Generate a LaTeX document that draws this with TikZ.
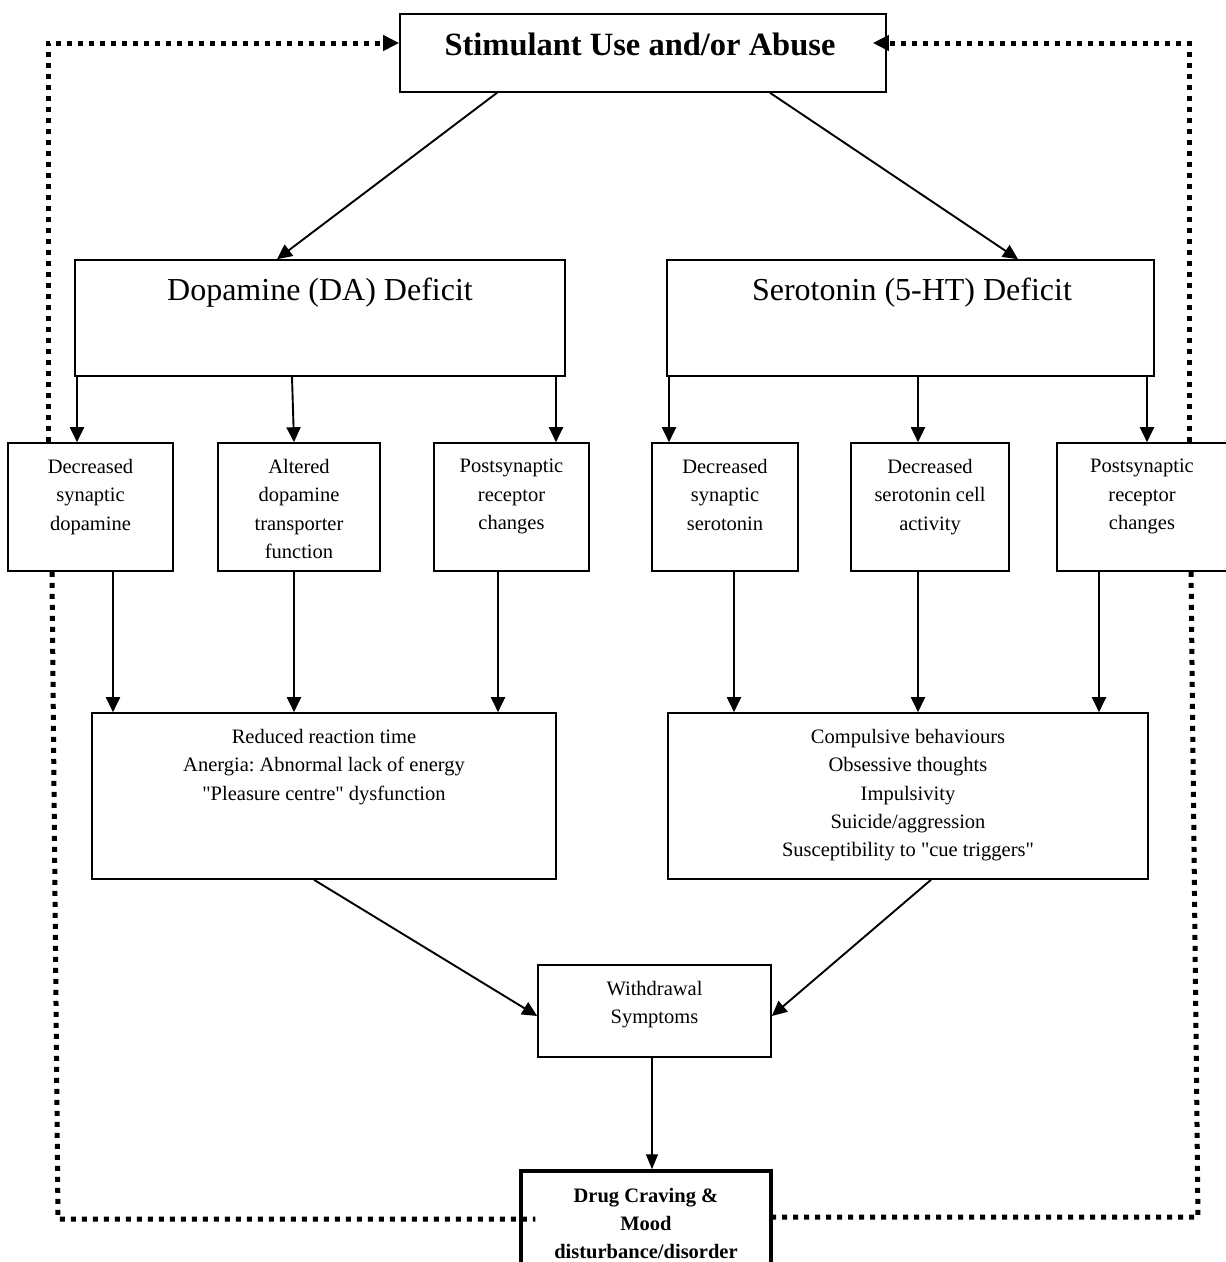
\documentclass[tikz,border=0pt]{standalone}
\usepackage{fontspec}
\setmainfont{Liberation Serif}[Ligatures=TeXOff]
\usetikzlibrary{arrows.meta,calc}
\frenchspacing
\begin{document}
\begin{tikzpicture}[x=1pt,y=-1pt,
  box/.style={draw,line width=1.6pt,rectangle,inner sep=0pt},
  txt/.style={font=\fontsize{20.5}{28.3}\selectfont,align=center,inner sep=0pt,anchor=north},
  arr/.style={line width=1.9pt,-{Triangle[length=15pt,width=14pt]}},
  thinarr/.style={line width=1.3pt,-{Triangle[length=15pt,width=12pt]}},
  dots/.style={line width=5pt,dash pattern=on 5pt off 6pt},
  dotarr/.style={dots,-{Triangle[length=16pt,width=15pt]}}
]
\useasboundingbox (0,0) rectangle (1226,1262);
% boxes
\node[box,minimum width=486pt,minimum height=78pt] (top) at (643,53) {};
\node[box,minimum width=490pt,minimum height=116pt] (dop) at (320,318) {};
\node[box,minimum width=487pt,minimum height=116pt] (ser) at (910.5,318) {};
\node[box,minimum width=165pt,minimum height=128pt] (s1) at (90.5,507) {};
\node[box,minimum width=162pt,minimum height=128pt] (s2) at (299,507) {};
\node[box,minimum width=155pt,minimum height=128pt] (s3) at (511.5,507) {};
\node[box,minimum width=146pt,minimum height=128pt] (s4) at (725,507) {};
\node[box,minimum width=158pt,minimum height=128pt] (s5) at (930,507) {};
\node[box,minimum width=170pt,minimum height=128pt] (s6) at (1142,507) {};
\node[box,minimum width=464pt,minimum height=166pt] (bl) at (324,796) {};
\node[box,minimum width=480pt,minimum height=166pt] (br) at (908,796) {};
\node[box,minimum width=233pt,minimum height=92pt] (wd) at (654.5,1011) {};
\node[box,line width=3.5pt,minimum width=250pt,minimum height=119pt] (drug) at (646,1230.5) {};
% texts
\node[inner sep=0pt,anchor=base,font=\fontsize{32.5}{36}\selectfont\bfseries] (toptxt) at (640,55) {Stimulant Use and/or Abuse};
\node[inner sep=0pt,anchor=base,font=\fontsize{32}{36}\selectfont] (doptxt) at (320,300) {Dopamine (DA) Deficit};
\node[inner sep=0pt,anchor=base,font=\fontsize{32}{36}\selectfont] (sertxt) at (912,300) {Serotonin (5-HT) Deficit};
\node[txt] (s1t) at (90.5,459) {Decreased\\synaptic\\dopamine};
\node[txt] (s2t) at (299,459) {Altered\\dopamine\\transporter\\function};
\node[txt] (s3t) at (511.5,459) {Postsynaptic\\receptor\\changes};
\node[txt] (s4t) at (725,459) {Decreased\\synaptic\\serotonin};
\node[txt] (s5t) at (930,459) {Decreased\\serotonin cell\\activity};
\node[txt] (s6t) at (1142,459) {Postsynaptic\\receptor\\changes};
\node[txt] (blt) at (324,729) {Reduced reaction time\\Anergia: Abnormal lack of energy\\"Pleasure centre" dysfunction};
\node[txt] (brt) at (908,729) {Compulsive behaviours\\Obsessive thoughts\\Impulsivity\\Suicide/aggression\\Susceptibility to "cue triggers"};
\node[txt] (wdt) at (654.5,981) {Withdrawal\\Symptoms};
\node[txt,font=\fontsize{20.5}{28}\selectfont\bfseries] (drugt) at (646,1188) {Drug Craving \&\\Mood\\disturbance/disorder};
% solid arrows
\draw[arr] (top.south -| 497,0) -- (dop.north -| 277,0);
\draw[arr] (top.south -| 770,0) -- (ser.north -| 1018,0);
\draw[arr] (dop.south -| 77,0) -- (s1.north -| 77,0);
\draw[arr] (dop.south -| 292,0) -- (s2.north -| 294,0);
\draw[arr] (dop.south -| 556,0) -- (s3.north -| 556,0);
\draw[arr] (ser.south -| 669,0) -- (s4.north -| 669,0);
\draw[arr] (ser.south -| 918,0) -- (s5.north -| 918,0);
\draw[arr] (ser.south -| 1147,0) -- (s6.north -| 1147,0);
\draw[arr] (s1.south -| 113,0) -- (bl.north -| 113,0);
\draw[arr] (s2.south -| 294,0) -- (bl.north -| 294,0);
\draw[arr] (s3.south -| 498,0) -- (bl.north -| 498,0);
\draw[arr] (s4.south -| 734,0) -- (br.north -| 734,0);
\draw[arr] (s5.south -| 918,0) -- (br.north -| 918,0);
\draw[arr] (s6.south -| 1099,0) -- (br.north -| 1099,0);
\draw[arr] (bl.south -| 314,0) -- (wd.west |- 0,1016);
\draw[arr] (br.south -| 931,0) -- (wd.east |- 0,1016);
\draw[thinarr] (wd.south -| 652,0) -- (drug.north -| 652,0);
% dotted feedback loops
\coordinate (rtip) at ($(top.east |- 0,43)+(-14,0)$);
\coordinate (lc) at (58,1219);
\coordinate (rc) at (1198,1217);
\coordinate (lend) at ($(drug.west |- 0,1219)+(16,0)$);
\draw[dotarr] (s1.north -| 48,0) |- (top.west |- 0,43);
\draw[dotarr] (s6.north -| 1189,0) |- (rtip);
\draw[dots] (s1.south -| 52,0) -- (lc) -- (lend);
\draw[dots] (s6.south -| 1191,0) -- (rc) -- (drug.east |- rc);
\end{tikzpicture}
\end{document}
